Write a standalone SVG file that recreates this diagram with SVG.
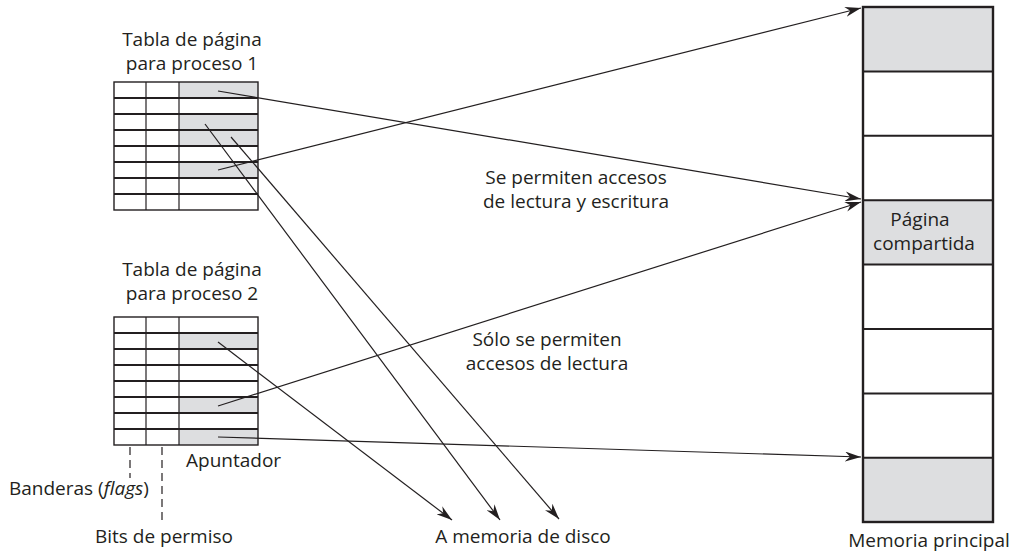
<svg xmlns="http://www.w3.org/2000/svg" width="1022" height="554" viewBox="0 0 1022 554">
<style>
text{font-family:"Open Sans",Lato,"Liberation Sans",sans-serif;font-size:19px;fill:#231f20}
.mid{text-anchor:middle}
.sh{fill:#dddee0}
.hl{stroke:#231f20;stroke-width:1.8}
.vl{stroke:#231f20;stroke-width:1.2}
.box{fill:none;stroke:#231f20;stroke-width:1.4}
.mem{fill:none;stroke:#231f20;stroke-width:2.4}
.ml{stroke:#231f20;stroke-width:2}
.con{stroke:#231f20;stroke-width:1.2;fill:none;marker-end:url(#ah)}
.dash{stroke:#231f20;stroke-width:1.2;stroke-dasharray:8 5}
</style>
<defs>
<marker id="ah" viewBox="0 0 16 10" refX="16" refY="5" markerWidth="16" markerHeight="10" markerUnits="userSpaceOnUse" orient="auto">
<path d="M0,0 L16,5 L0,10 L5,5 z" fill="#231f20"/>
</marker>
</defs>
<rect width="1022" height="554" fill="#fff"/>

<g id="tabla1">
<text class="mid" x="192" y="46">Tabla de página</text>
<text class="mid" x="192" y="70">para proceso 1</text>
<rect class="sh" x="179" y="82" width="79" height="16"/>
<rect class="sh" x="179" y="114" width="79" height="32"/>
<rect class="sh" x="179" y="162" width="79" height="16"/>
<line class="hl" x1="114" y1="98" x2="258" y2="98"/>
<line class="hl" x1="114" y1="114" x2="258" y2="114"/>
<line class="hl" x1="114" y1="130" x2="258" y2="130"/>
<line class="hl" x1="114" y1="146" x2="258" y2="146"/>
<line class="hl" x1="114" y1="162" x2="258" y2="162"/>
<line class="hl" x1="114" y1="178" x2="258" y2="178"/>
<line class="hl" x1="114" y1="194" x2="258" y2="194"/>
<line class="vl" x1="146" y1="82" x2="146" y2="210"/>
<line class="vl" x1="179" y1="82" x2="179" y2="210"/>
<rect class="box" x="114" y="82" width="144" height="128"/>
</g>

<g id="tabla2">
<text class="mid" x="192" y="276">Tabla de página</text>
<text class="mid" x="192" y="300">para proceso 2</text>
<rect class="sh" x="179" y="333" width="79" height="16"/>
<rect class="sh" x="179" y="397" width="79" height="16"/>
<rect class="sh" x="179" y="429" width="79" height="16"/>
<line class="hl" x1="114" y1="333" x2="258" y2="333"/>
<line class="hl" x1="114" y1="349" x2="258" y2="349"/>
<line class="hl" x1="114" y1="365" x2="258" y2="365"/>
<line class="hl" x1="114" y1="381" x2="258" y2="381"/>
<line class="hl" x1="114" y1="397" x2="258" y2="397"/>
<line class="hl" x1="114" y1="413" x2="258" y2="413"/>
<line class="hl" x1="114" y1="429" x2="258" y2="429"/>
<line class="vl" x1="146" y1="317" x2="146" y2="445"/>
<line class="vl" x1="179" y1="317" x2="179" y2="445"/>
<rect class="box" x="114" y="317" width="144" height="128"/>
</g>

<g id="memoria">
<rect class="sh" x="863" y="7" width="130" height="64.4"/>
<rect class="sh" x="863" y="200.2" width="130" height="64.4"/>
<rect class="sh" x="863" y="457.8" width="130" height="64.2"/>
<line class="ml" x1="863" y1="71.4" x2="993" y2="71.4"/>
<line class="ml" x1="863" y1="135.8" x2="993" y2="135.8"/>
<line class="ml" x1="863" y1="200.2" x2="993" y2="200.2"/>
<line class="ml" x1="863" y1="264.6" x2="993" y2="264.6"/>
<line class="ml" x1="863" y1="329" x2="993" y2="329"/>
<line class="ml" x1="863" y1="393.4" x2="993" y2="393.4"/>
<line class="ml" x1="863" y1="457.8" x2="993" y2="457.8"/>
<rect class="mem" x="863" y="7" width="130" height="515"/>
<text class="mid" x="920" y="226">Página</text>
<text class="mid" x="924" y="250">compartida</text>
<text class="mid" x="929" y="547">Memoria principal</text>
</g>

<g id="etiquetas">
<text x="186" y="467">Apuntador</text>
<text x="9" y="495">Banderas (<tspan font-style="italic">flags</tspan>)</text>
<text class="mid" x="164" y="543">Bits de permiso</text>
<text class="mid" x="523" y="543">A memoria de disco</text>
<text class="mid" x="576" y="184">Se permiten accesos</text>
<text class="mid" x="576" y="208">de lectura y escritura</text>
<text class="mid" x="547" y="346">Sólo se permiten</text>
<text class="mid" x="547" y="370">accesos de lectura</text>
</g>

<g id="conectores">
<line class="con" x1="218" y1="91" x2="861" y2="199"/>
<line class="con" x1="218" y1="170" x2="861" y2="8"/>
<line class="con" x1="205" y1="124" x2="500" y2="520"/>
<line class="con" x1="231" y1="137" x2="559" y2="519"/>
<line class="con" x1="218" y1="342" x2="452" y2="520"/>
<line class="con" x1="218" y1="406" x2="861" y2="202"/>
<line class="con" x1="218" y1="437" x2="861" y2="457"/>
<line class="dash" x1="130" y1="447" x2="130" y2="478"/>
<line class="dash" x1="162" y1="447" x2="162" y2="520"/>
</g>
</svg>
